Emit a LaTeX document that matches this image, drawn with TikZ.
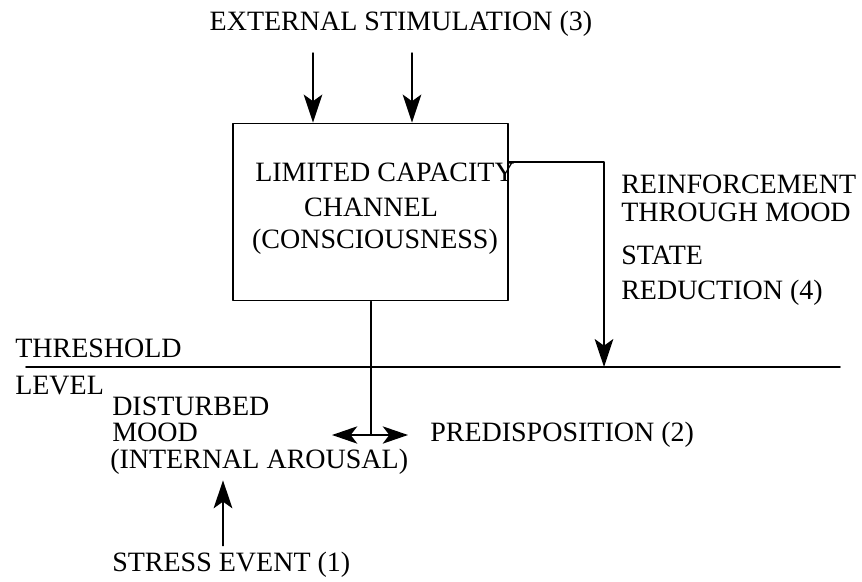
\documentclass[tikz,border=0pt]{standalone}
\usepackage{fontspec}
\setmainfont{Liberation Serif}
\usepackage{tikz}
\usetikzlibrary{arrows.meta}

\begin{document}
\begin{tikzpicture}[line cap=round,line join=round,x=0.75pt,y=-0.75pt,
		lbl/.style={inner sep=0pt,font=\fontsize{21}{18}\selectfont},
		arr/.style={line width=1.1pt,-{Stealth[length=21pt,width=14pt,inset=5pt]}},
		dblarr/.style={line width=1.1pt,{Stealth[length=19pt,width=13pt,inset=5pt]}-{Stealth[length=19pt,width=13pt,inset=5pt]}}]
		\useasboundingbox (0,0) rectangle (862,581);
		% top input and box
		\node[lbl] (ext) at (401,24) {EXTERNAL STIMULATION (3)};
		\node[draw,line width=1.2pt,inner sep=0pt,minimum width=206pt,minimum height=133pt] (box) at (370.5,212) {};
		\node[lbl,anchor=west] (lim) at (255,172) {LIMITED CAPACITY};
		\node[lbl] (chan) at (371,207) {CHANNEL};
		\node[lbl] (cons) at (375,242) {(CONSCIOUSNESS)};
		\coordinate (s1) at (313,53);
		\coordinate (s2) at (412,53);
		\draw[arr] (s1) -- (s1 |- box.north);
		\draw[arr] (s2) -- (s2 |- box.north);
		% threshold
		\coordinate (thl) at (26,367);
		\coordinate (thr) at (840,367);
		\draw[line width=1.3pt] (thl) -- (thr);
		\node[lbl,anchor=west] (thr1) at (15,348) {THRESHOLD};
		\node[lbl,anchor=west] (thr2) at (15,386) {LEVEL};
		% feedback loop
		\coordinate (fb) at (604,162);
		\draw[arr] (box.east |- fb) -- (fb) -- (fb |- thr);
		\node[lbl,anchor=west] (re1) at (621,184) {REINFORCEMENT};
		\node[lbl,anchor=west] (re2) at (621,212) {THROUGH MOOD};
		\node[lbl,anchor=west] (re3) at (621,255) {STATE};
		\node[lbl,anchor=west] (re4) at (621,293) {REDUCTION (4)};
		% below threshold
		\node[lbl,anchor=west] (dm1) at (112,406) {DISTURBED};
		\node[lbl,anchor=west] (dm2) at (112,432) {MOOD};
		\node[lbl,anchor=west] (dm3) at (110,462) {(INTERNAL AROUSAL)};
		\coordinate (pl) at (332,435);
		\coordinate (pr) at (408,435);
		\coordinate (pm) at (371,435);
		\draw[line width=1.1pt] (box.south -| pm) -- (pm);
		\draw[dblarr] (pl) -- (pr);
		\node[lbl,anchor=west] (pre) at (430,435) {PREDISPOSITION (2)};
		\node[lbl,anchor=west] (str) at (112,565) {STRESS EVENT (1)};
		\coordinate (up) at (223,543);
		\draw[arr] ([yshift=-2pt]up) -- ([yshift=-4pt]dm3.south -| up);
\end{tikzpicture}
\end{document}
